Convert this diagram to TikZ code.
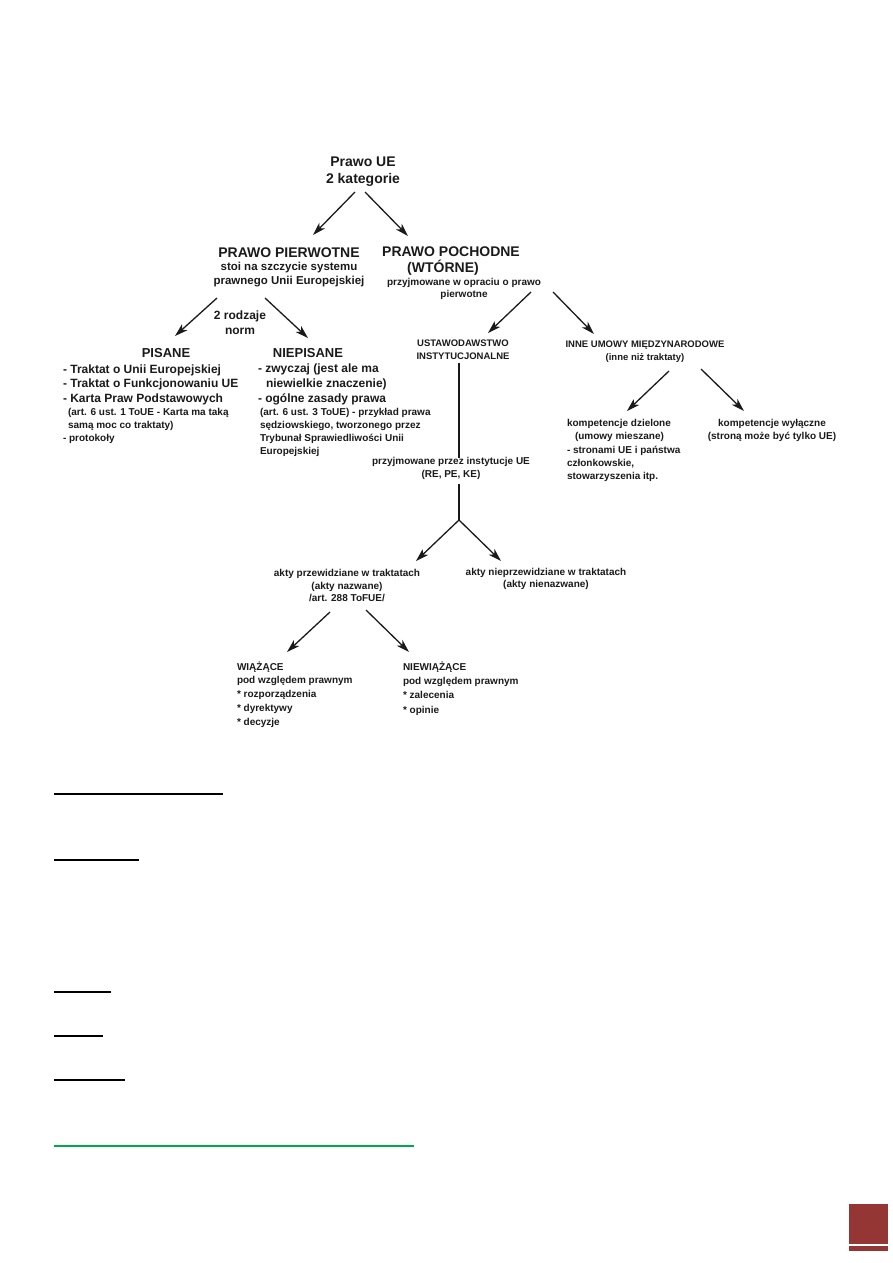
\documentclass[tikz,border=0pt]{standalone}
\usepackage{fontspec}
\setmainfont{Liberation Sans}
\usetikzlibrary{arrows.meta,calc}
\newcommand\fz[2]{\fontsize{#1}{#2}\selectfont\bfseries}
\definecolor{pagered}{HTML}{943634}
\definecolor{linegreen}{HTML}{00A651}
\definecolor{ink}{HTML}{1A1A1A}
\begin{document}
\begin{tikzpicture}[x=1pt,y=-1pt,
  lbl/.style={inner sep=0pt, outer sep=0pt, text=ink, align=center},
  lft/.style={inner sep=0pt, outer sep=0pt, text=ink, align=left, anchor=west},
  arr/.style={draw=ink, line width=1.3pt, -{Stealth[length=13pt,width=8pt,inset=3.5pt]}},
  conn/.style={draw=ink, line width=1.3pt},
  rule/.style={draw=black, line width=2pt},
]
\useasboundingbox (0,0) rectangle (893,1263);

% --- nodes ---
\node[lbl, font={\fz{14}{17}}] (top) at (363,171.5) {Prawo UE\\2 kategorie};

\node[lbl, font={\fz{14}{16}}] (pp) at (289,253) {PRAWO PIERWOTNE};
\node[lbl, font={\fz{11.5}{14}}] (pps) at (289,275) {stoi na szczycie systemu\\prawnego Unii Europejskiej};

\node[lbl, font={\fz{14}{16}}] (pd) at (451,261) {PRAWO POCHODNE\\(WTÓRNE)\hspace*{16pt}};
\node[lbl, font={\fz{10}{12}}] (pds) at (464,289) {przyjmowane w opraciu o prawo\\pierwotne};

\node[lbl, font={\fz{12}{15}}] (norm) at (240,322.5) {2 rodzaje\\norm};

\node[lbl, font={\fz{13}{15}}] (pis) at (166,353) {PISANE};
\node[lft, font={\fz{12}{14.5}}] (pisa) at (63,384.5) {- Traktat o Unii Europejskiej\\- Traktat o Funkcjonowaniu UE\\- Karta Praw Podstawowych};
\node[lft, font={\fz{10}{13}}] (pisb) at (63,426) {\hspace*{5pt}(art. 6 ust. 1 ToUE - Karta ma taką\\\hspace*{5pt}samą moc co traktaty)\\- protokoły};

\node[lbl, font={\fz{13}{15}}] (niep) at (308,353) {NIEPISANE};
\node[lft, font={\fz{12}{15}}] (niepa) at (258,384) {- zwyczaj (jest ale ma\\\hspace*{8pt}niewielkie znaczenie)\\- ogólne zasady prawa};
\node[lft, font={\fz{10}{13}}] (niepb) at (260,432.5) {(art. 6 ust. 3 ToUE) - przykład prawa\\sędziowskiego, tworzonego przez\\Trybunał Sprawiedliwości Unii\\Europejskiej};

\node[lbl, font={\fz{9.5}{13}}] (ust) at (463,349.5) {USTAWODAWSTWO\\INSTYTUCJONALNE};
\node[lbl, font={\fz{9.5}{13}}] (inne) at (645,351.5) {INNE UMOWY MIĘDZYNARODOWE\\(inne niż traktaty)};

\node[lbl, font={\fz{10}{13}}] (inst) at (451,468.5) {przyjmowane przez instytucje UE\\(RE, PE, KE)};
\coordinate (br) at (459,520);

\node[lft, font={\fz{10}{13.2}}] (kd) at (567,450.5) {kompetencje dzielone\\\hspace*{8pt}(umowy mieszane)\\- stronami UE i państwa\\członkowskie,\\stowarzyszenia itp.};
\node[lbl, font={\fz{10}{13}}] (kw) at (772,430.5) {kompetencje wyłączne\\(stroną może być tylko UE)};

\node[lbl, font={\fz{10}{12.5}}] (ap) at (347,585.5) {akty przewidziane w traktatach\\(akty nazwane)\\/art. 288 ToFUE/};
\node[lbl, font={\fz{10}{12.5}}] (anp) at (546,579) {akty nieprzewidziane w traktatach\\(akty nienazwane)};

\node[lft, font={\fz{10}{13.8}}] (wi) at (237,694.5) {WIĄŻĄCE\\pod względem prawnym\\* rozporządzenia\\* dyrektywy\\* decyzje};
\node[lft, font={\fz{10}{14.3}}] (nw) at (403,688.5) {NIEWIĄŻĄCE\\pod względem prawnym\\* zalecenia\\* opinie};

% --- connectors ---
\draw[arr] ([shift={(-8,20.5)}]top.center) -- ([shift={(24,-18)}]pp.center);
\draw[arr] ([shift={(2,20.5)}]top.center) -- ([shift={(-43,-25)}]pd.center);

\draw[arr] ([shift={(-72,23)}]pps.center) -- ([shift={(9,-17)}]pis.center);
\draw[arr] ([shift={(-24,23)}]pps.center) -- ([shift={(0,-15)}]niep.center);

\draw[arr] ([shift={(67,3)}]pds.center) -- ([shift={(25,-16.5)}]ust.center);
\draw[arr] ([shift={(89,3)}]pds.center) -- ([shift={(-51,-17.5)}]inne.center);

\draw[conn] ([shift={(-4,13.5)}]ust.center) -- ([shift={(8,-10.5)}]inst.center);
\draw[conn] ([shift={(8,15.5)}]inst.center) -- (br);
\draw[arr] (br) -- ([shift={(69,-24.5)}]ap.center);
\draw[arr] (br) -- ([shift={(-45,-18)}]anp.center);

\draw[arr] ([shift={(24,19.5)}]inne.center) -- ([shift={(60,-39.5)}]kd.west);
\draw[arr] ([shift={(56,17.5)}]inne.center) -- ([shift={(-28,-19.5)}]kw.center);

\draw[arr] ([shift={(-17,26.5)}]ap.center) -- ([shift={(50,-42.5)}]wi.west);
\draw[arr] ([shift={(19,24.5)}]ap.center) -- ([shift={(6,-36.5)}]nw.west);

% --- page rules ---
\draw[rule, line width=1.5pt] (54,794) -- (223,794);
\draw[rule] (54,860) -- (139,860);
\draw[rule] (54,992) -- (111,992);
\draw[rule] (54,1036) -- (103,1036);
\draw[rule] (54,1080) -- (125,1080);
\draw[draw=linegreen, line width=2pt] (54,1146) -- (414,1146);

% --- page number box ---
\fill[pagered] (849,1204) rectangle (888,1244);
\fill[pagered] (849,1246) rectangle (888,1251);
\end{tikzpicture}
\end{document}
